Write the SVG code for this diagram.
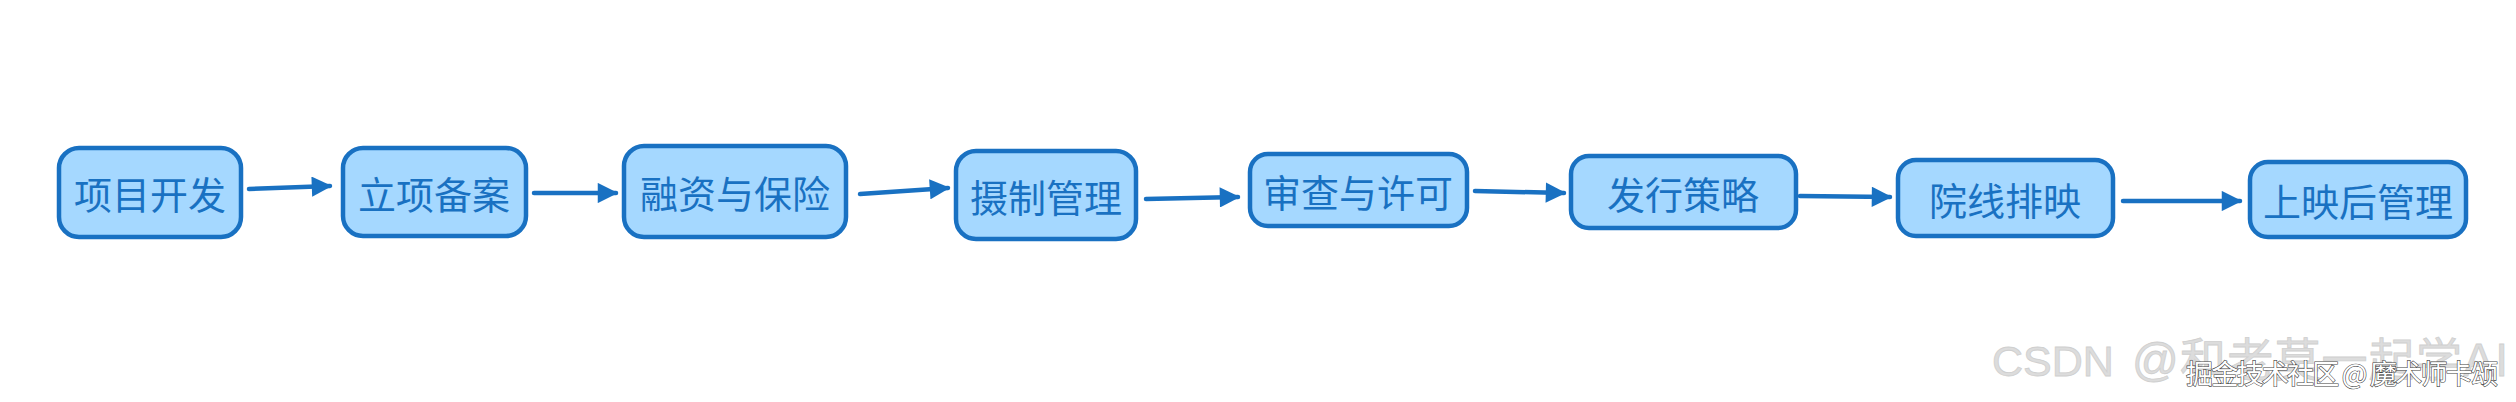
<svg xmlns="http://www.w3.org/2000/svg" width="2516" height="402" viewBox="0 0 2516 402">
<style>
.box{fill:#a5d8ff;stroke:#1971c2;stroke-width:4.5}
.lbl{font-family:"Noto Sans CJK SC","Noto Sans",sans-serif;font-size:38px;fill:#1971c2;text-anchor:middle;dominant-baseline:central}
.edge{stroke:#1971c2;stroke-width:4.5;fill:none;stroke-linecap:round}
.wm1{font-family:"Liberation Sans","Noto Sans CJK SC",sans-serif;font-size:43px;fill:#dcdcdc;stroke:#cfcfcf;stroke-width:0.8}
.wm2{font-family:"Noto Sans CJK SC",sans-serif;font-size:27px;fill:#ffffff;stroke:#444;stroke-width:1.2;paint-order:stroke}
</style>
<defs>
<marker id="ah" viewBox="0 0 10 10" refX="9" refY="5" markerWidth="5" markerHeight="4.5" orient="auto" markerUnits="strokeWidth">
<path d="M0,0 L10,5 L0,10 Z" fill="#1971c2"/>
</marker>
</defs>
<rect width="2516" height="402" fill="#ffffff"/>
<g id="edges">
<path class="edge" d="M249,189 L330,186" marker-end="url(#ah)"/>
<path class="edge" d="M534,193 L616,193" marker-end="url(#ah)"/>
<path class="edge" d="M860,194 L948,188" marker-end="url(#ah)"/>
<path class="edge" d="M1146,199 L1238,197" marker-end="url(#ah)"/>
<path class="edge" d="M1475,191 L1564,193" marker-end="url(#ah)"/>
<path class="edge" d="M1800,196 L1890,197" marker-end="url(#ah)"/>
<path class="edge" d="M2123,201 L2240,201" marker-end="url(#ah)"/>
</g>
<g id="n1"><rect class="box" x="59" y="148" width="182" height="89" rx="20"/><text class="lbl" x="150" y="192">项目开发</text></g>
<g id="n2"><rect class="box" x="343" y="148" width="183" height="88" rx="20"/><text class="lbl" x="434" y="192">立项备案</text></g>
<g id="n3"><rect class="box" x="624" y="146" width="222" height="91" rx="20"/><text class="lbl" x="735" y="191">融资与保险</text></g>
<g id="n4"><rect class="box" x="956" y="151" width="180" height="88" rx="20"/><text class="lbl" x="1046" y="195">摄制管理</text></g>
<g id="n5"><rect class="box" x="1250" y="154" width="217" height="72" rx="18"/><text class="lbl" x="1358" y="190">审查与许可</text></g>
<g id="n6"><rect class="box" x="1571" y="156" width="225" height="72" rx="18"/><text class="lbl" x="1683" y="192">发行策略</text></g>
<g id="n7"><rect class="box" x="1898" y="160" width="215" height="76" rx="18"/><text class="lbl" x="2005" y="198">院线排映</text></g>
<g id="n8"><rect class="box" x="2250" y="162" width="216" height="75" rx="18"/><text class="lbl" x="2358" y="199">上映后管理</text></g>
<text class="wm1" y="376"><tspan x="1992">CSDN</tspan><tspan x="2132" font-size="46" textLength="376" lengthAdjust="spacing">@和老莫一起学AI</tspan></text>
<text class="wm2" x="2186" y="384" textLength="312" lengthAdjust="spacing">掘金技术社区 @ 魔术师卡颂</text>
</svg>
